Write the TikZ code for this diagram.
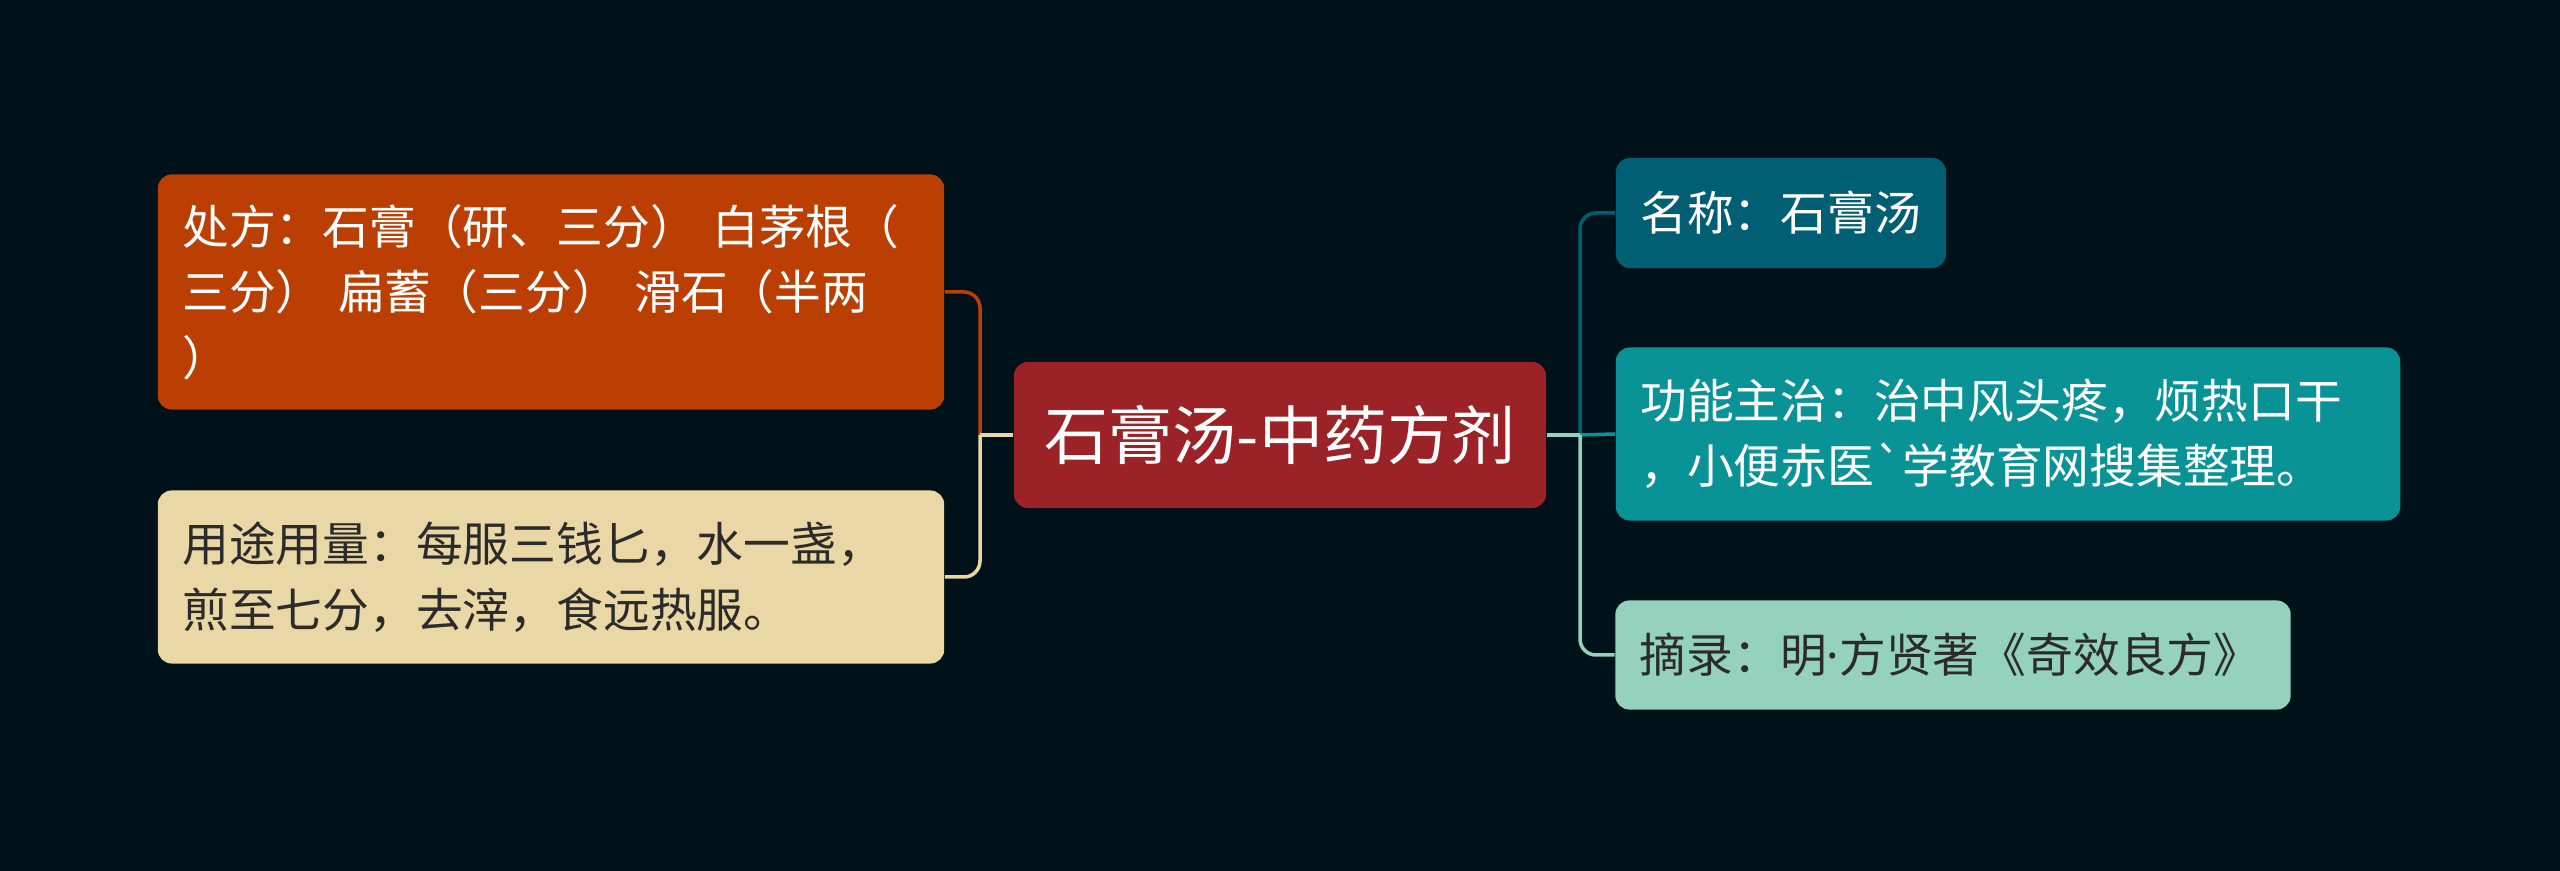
\documentclass[tikz,border=0pt]{standalone}
\usepackage{fontspec}
\newfontfamily\cjk{Noto Sans CJK SC}
\newfontfamily\latin{Noto Sans}
\definecolor{bgdark}{HTML}{001219}
\definecolor{rootred}{HTML}{9B2226}
\definecolor{rustorange}{HTML}{BB3E03}
\definecolor{sandbeige}{HTML}{E9D8A6}
\definecolor{deepteal}{HTML}{005F73}
\definecolor{midteal}{HTML}{0A9396}
\definecolor{paleteal}{HTML}{94D2BD}
\definecolor{inkdark}{HTML}{2B2B2B}
\begin{document}
\begin{tikzpicture}[x=0.01cm, y=-0.01cm]
        \tikzstyle{root} = [rectangle, rounded corners=0.14cm, fill=rootred, text=white, minimum width=5.32cm, minimum height=1.46cm, font=\cjk\fontsize{18.2}{24}\selectfont]
        \tikzstyle{topic} = [rectangle, rounded corners=0.14cm, inner xsep=0.245cm, inner ysep=0pt, align=left, font=\cjk\fontsize{13.3}{18.6}\selectfont]
        \tikzstyle{branch} = [line width=1pt]
        \tikzstyle{elbow} = [line width=1pt, rounded corners=0.16cm]

        \fill[bgdark] (0,0) rectangle (2560,871);
        \useasboundingbox (0,0) rectangle (2560,871);

        \node [root] (root) at (1280,435) {石膏汤-中药方剂};

        \node [topic, fill=rustorange, text=white, text width=7.37cm, minimum height=2.35cm] (chufang) at (551,292) {处方：石膏（研、三分） 白茅根（\\三分） 扁蓄（三分） 滑石（半两\\）};
        \node [topic, fill=sandbeige, text=inkdark, text width=7.37cm, minimum height=1.73cm] (yongtu) at (551,577) {用途用量：每服三钱匕，水一盏，\\煎至七分，去滓，食远热服。};

        \node [topic, fill=deepteal, text=white, text width=2.81cm, minimum height=1.10cm] (mingcheng) at (1781,213) {名称：石膏汤};
        \node [topic, fill=midteal, text=white, text width=7.35cm, minimum height=1.73cm] (gongneng) at (2008,434) {功能主治：治中风头疼，烦热口干\\，小便赤医\symbol{96}学教育网搜集整理。};
        \node [topic, fill=paleteal, text=inkdark, text width=6.26cm, minimum height=1.09cm] (zhailu) at (1953,655) {摘录：明{\latin ·}方贤著《奇效良方》};

        \coordinate (lfork) at (980,435);
        \coordinate (rfork) at (1580,435);

        \draw [branch, rustorange] (root.west) -- (lfork);
        \draw [elbow, rustorange] (lfork) |- (chufang.east);
        \draw [elbow, sandbeige] (lfork) |- (yongtu.east);
        \draw [branch, sandbeige] (root.west) -- (lfork);

        \draw [elbow, deepteal] (rfork) |- (mingcheng.west);
        \draw [branch, midteal] (root.east) -- (rfork);
        \draw [elbow, midteal] (rfork) -- (gongneng.west);
        \draw [elbow, paleteal] (rfork) |- (zhailu.west);
        \draw [branch, paleteal] (root.east) -- (rfork);
    \end{tikzpicture}
\end{document}
